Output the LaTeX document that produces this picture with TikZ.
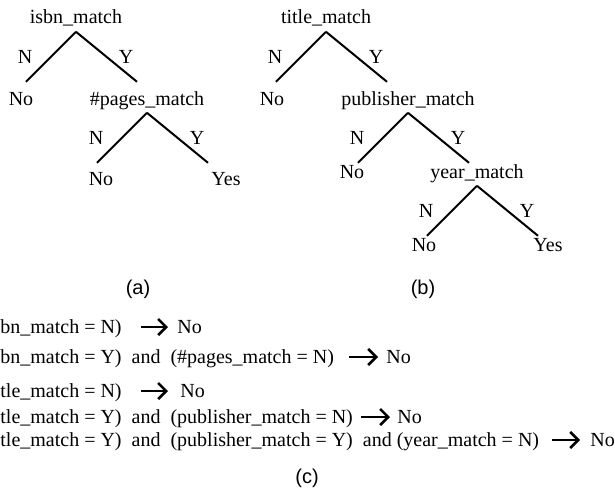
\documentclass[tikz,border=0pt]{standalone}
\usepackage{fontspec}
\setmainfont{Liberation Serif}
\newfontfamily\legendafont{Liberation Sans}
\usetikzlibrary{arrows.meta}
\tikzstyle{atributo}=[anchor=base, inner sep=1.2pt, text height=7pt, text depth=2.5pt]
\tikzstyle{ramo}=[inner sep=0pt]
\tikzstyle{regra}=[anchor=base west, inner sep=0pt, text height=8pt, text depth=2pt]
\tikzstyle{seta}=[line width=1.3pt, -{Straight Barb[length=4pt,width=8pt]}]
\tikzstyle{legenda}=[anchor=base, font=\legendafont]

\begin{document}
\begin{tikzpicture}[x=0.5pt, y=-0.5pt]
			\useasboundingbox (0,0) rectangle (615,487);
			% arvore (a)
			\node[atributo] (isbn) at (76,24) {isbn\_match};
			\node[atributo] (noa1) at (21,105) {No};
			\node[atributo] (pages) at (147,105) {\#pages\_match};
			\node[atributo] (noa2) at (101,185) {No};
			\node[atributo] (yesa) at (226,185) {Yes};
			% arvore (b)
			\node[atributo] (title) at (326,24) {title\_match};
			\node[atributo] (nob1) at (272,105) {No};
			\node[atributo] (publ) at (408,105) {publisher\_match};
			\node[atributo] (nob2) at (352,178) {No};
			\node[atributo] (year) at (477,178) {year\_match};
			\node[atributo] (nob3) at (424,251) {No};
			\node[atributo] (yesb) at (548,251) {Yes};
			\foreach \nome in {isbn,pages,title,publ,year}{
				\path[draw=black, line width=1pt]
					(\nome.south) -- ++(-50,50) node[ramo, midway, xshift=-13pt] {N}
					(\nome.south) -- ++(61,50) node[ramo, midway, xshift=9.75pt] {Y};
			}
			\node[legenda] (capa) at (138,294) {(a)};
			\node[legenda] (capb) at (423,294) {(b)};
			% regras (c)
			\node[regra] (r1) at (0,333) {bn\_match = N)};
			\node[regra] (r1no) at (177,333) {No};
			\node[regra] (r2) at (0,363) {bn\_match = Y)\ \ and\ \ (\#pages\_match = N)};
			\node[regra] (r2no) at (386,363) {No};
			\node[regra] (r3) at (0,397) {tle\_match = N)};
			\node[regra] (r3no) at (180,397) {No};
			\node[regra] (r4) at (0,423) {tle\_match = Y)\ \ and\ \ (publisher\_match = N)};
			\node[regra] (r4no) at (397,423) {No};
			\node[regra] (r5) at (0,446) {tle\_match = Y)\ \ and\ \ (publisher\_match = Y)\ \ and (year\_match = N)};
			\node[regra] (r5no) at (590,446) {No};
			\draw[seta, shorten <=9.5pt, shorten >=4.5pt] (r1.east) -- (r1no.west);
			\draw[seta, shorten <=7.5pt, shorten >=4pt] (r2.east) -- (r2no.west);
			\draw[seta, shorten <=9.5pt, shorten >=6pt] (r3.east) -- (r3no.west);
			\draw[seta, shorten <=4pt, shorten >=3.5pt] (r4.east) -- (r4no.west);
			\draw[seta, shorten <=6.5pt, shorten >=5pt] (r5.east) -- (r5no.west);
			\node[legenda] (capc) at (307,483) {(c)};
		\end{tikzpicture}
\end{document}
